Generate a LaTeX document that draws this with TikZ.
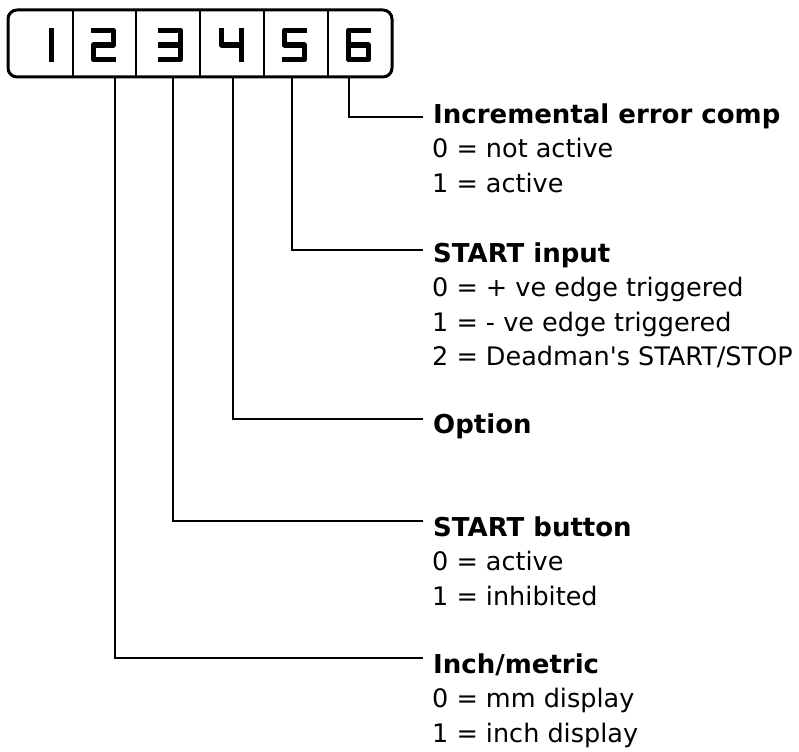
\documentclass[tikz,border=0pt]{standalone}
\usepackage{fontspec}
\setmainfont{DejaVu Sans}
\begin{document}
\begin{tikzpicture}[x=1pt,y=-1pt]
\tikzset{
  seg/.style={line width=5.5pt, line join=round, line cap=rect},
  divider/.style={line width=1.8pt},
  conn/.style={line width=2.6pt},
  head/.style={anchor=base west, inner sep=0pt, font=\fontsize{26}{30}\selectfont\bfseries},
  item/.style={anchor=base west, inner sep=0pt, font=\fontsize{25.5}{30}\selectfont},
}
\useasboundingbox (0,0) rectangle (799,751);
% display box
\node[draw, rounded corners=9pt, line width=3pt, minimum width=384pt, minimum height=67pt, inner sep=0pt] (disp) at (200,43.5) {};
\foreach \x in {73,136,200,264,328} \draw[divider] (\x,10) -- (\x,77);
% digits (seven-segment style)
% 1
\draw[seg] (51.5,30.5) -- (51.5,59.5);
% 2
\begin{scope}[shift={(91,0)}]
\draw[seg] (2.5,30.5) -- (22.5,30.5) -- (22.5,45) -- (2.5,45) -- (2.5,59.5) -- (22.5,59.5);
\end{scope}
% 3
\begin{scope}[shift={(158,0)}]
\draw[seg] (2.5,30.5) -- (22.5,30.5) -- (22.5,59.5) -- (2.5,59.5);
\draw[seg] (2.5,45) -- (22.5,45);
\end{scope}
% 4
\begin{scope}[shift={(219,0)}]
\draw[seg] (2.5,30.5) -- (2.5,45) -- (22.5,45);
\draw[seg] (22.5,30.5) -- (22.5,59.5);
\end{scope}
% 5
\begin{scope}[shift={(282,0)}]
\draw[seg] (22.5,30.5) -- (2.5,30.5) -- (2.5,45) -- (22.5,45) -- (22.5,59.5) -- (2.5,59.5);
\end{scope}
% 6
\begin{scope}[shift={(346,0)}]
\draw[seg] (22.5,30.5) -- (2.5,30.5) -- (2.5,59.5) -- (22.5,59.5) -- (22.5,45) -- (2.5,45);
\end{scope}
% connector start and end points
\coordinate (s2) at (115,77);
\coordinate (s3) at (173,77);
\coordinate (s4) at (233,77);
\coordinate (s5) at (292,77);
\coordinate (s6) at (349,77);
\coordinate (e2) at (423,658);
\coordinate (e3) at (423,521);
\coordinate (e4) at (423,419);
\coordinate (e5) at (423,250);
\coordinate (e6) at (423,117);
\draw[conn] (s6) |- (e6);
\draw[conn] (s5) |- (e5);
\draw[conn] (s4) |- (e4);
\draw[conn] (s3) |- (e3);
\draw[conn] (s2) |- (e2);
% labels
\node[head] (h6) at (433,124) {Incremental error comp};
\node[item] (i6a) at (432,158) {0 = not active};
\node[item] (i6b) at (432,193) {1 = active};
\node[head] (h5) at (433,262) {START input};
\node[item] (i5a) at (432,296) {0 = + ve edge triggered};
\node[item] (i5b) at (432,331) {1 = - ve edge triggered};
\node[item] (i5c) at (432,365) {2 = Deadman\textquotesingle s START/STOP};
\node[head] (h4) at (433,433) {Option};
\node[head] (h3) at (433,536) {START button};
\node[item] (i3a) at (432,570) {0 = active};
\node[item] (i3b) at (432,605) {1 = inhibited};
\node[head] (h2) at (433,673) {Inch/metric};
\node[item] (i2a) at (432,707) {0 = mm display};
\node[item] (i2b) at (432,742) {1 = inch display};
\end{tikzpicture}
\end{document}
